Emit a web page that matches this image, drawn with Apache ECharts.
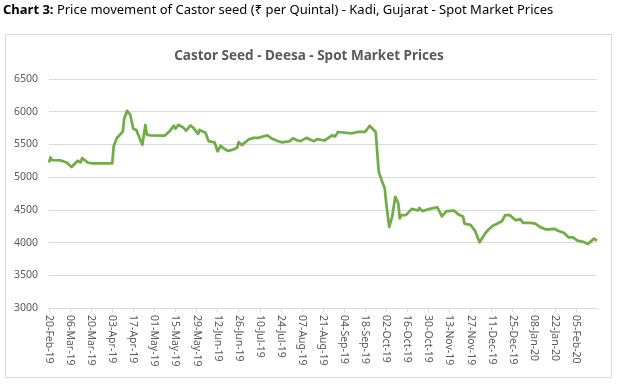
<!DOCTYPE html>
<html>
<head>
<meta charset="utf-8">
<script src="https://cdn.jsdelivr.net/npm/echarts@6/dist/echarts.min.js"></script>
<style>
html,body{margin:0;padding:0;background:#fff;}
#c{width:618px;height:385px;}
</style>
</head>
<body>
<div id="c"></div>
<script>
// ---- Data ----
const headerBold = 'Chart 3:';
const headerText = ' Price movement of Castor seed (₹ per Quintal) - Kadi, Gujarat - Spot Market Prices';
const chartTitle = 'Castor Seed - Deesa - Spot Market Prices';
const axisStart = '2019-02-20';
const axisEnd = '2020-02-19';
const tickDays = 14;
const yTicks = [3000, 3500, 4000, 4500, 5000, 5500, 6000, 6500];
const months = ['Jan','Feb','Mar','Apr','May','Jun','Jul','Aug','Sep','Oct','Nov','Dec'];

const dates = [
 '2019-02-20','2019-02-21','2019-02-22','2019-02-28','2019-03-04','2019-03-07','2019-03-11','2019-03-13','2019-03-14','2019-03-18',
 '2019-03-21','2019-04-03','2019-04-04','2019-04-06','2019-04-10','2019-04-11','2019-04-13','2019-04-15','2019-04-17','2019-04-19',
 '2019-04-23','2019-04-25','2019-04-26','2019-04-28','2019-05-08','2019-05-11','2019-05-14','2019-05-15','2019-05-17','2019-05-20',
 '2019-05-22','2019-05-25','2019-05-27','2019-05-30','2019-05-31','2019-06-04','2019-06-06','2019-06-10','2019-06-12','2019-06-14',
 '2019-06-16','2019-06-19','2019-06-22','2019-06-25','2019-06-26','2019-06-28','2019-07-03','2019-07-06','2019-07-09','2019-07-10',
 '2019-07-15','2019-07-18','2019-07-21','2019-07-25','2019-07-30','2019-08-01','2019-08-04','2019-08-06','2019-08-10','2019-08-15',
 '2019-08-17','2019-08-22','2019-08-27','2019-08-29','2019-08-31','2019-09-09','2019-09-13','2019-09-18','2019-09-21','2019-09-25',
 '2019-09-27','2019-09-29','2019-10-01','2019-10-02','2019-10-04','2019-10-06','2019-10-08','2019-10-10','2019-10-11','2019-10-12',
 '2019-10-15','2019-10-19','2019-10-23','2019-10-24','2019-10-26','2019-10-30','2019-11-05','2019-11-08','2019-11-11','2019-11-16',
 '2019-11-19','2019-11-22','2019-11-23','2019-11-27','2019-11-30','2019-12-03','2019-12-07','2019-12-09','2019-12-12','2019-12-14',
 '2019-12-18','2019-12-20','2019-12-23','2019-12-27','2019-12-30','2020-01-01','2020-01-06','2020-01-09','2020-01-12','2020-01-16',
 '2020-01-18','2020-01-22','2020-01-24','2020-01-28','2020-01-31','2020-02-03','2020-02-06','2020-02-07','2020-02-10','2020-02-13',
 '2020-02-17','2020-02-18','2020-02-19'
];
const prices = [
 5224,5300,5260,5255,5220,5155,5250,5225,5290,5220,
 5210,5210,5476,5594,5695,5900,6015,5950,5740,5720,
 5495,5797,5650,5640,5635,5700,5787,5740,5800,5760,
 5710,5790,5750,5660,5720,5680,5550,5530,5395,5480,
 5440,5400,5420,5450,5535,5490,5580,5600,5600,5630,
 5640,5590,5560,5530,5550,5595,5560,5550,5600,5550,
 5580,5560,5640,5620,5690,5670,5690,5690,5785,5690,
 5085,4950,4830,4600,4240,4400,4700,4600,4370,4420,
 4420,4515,4490,4530,4480,4510,4540,4400,4480,4490,
 4430,4400,4290,4270,4180,4005,4150,4200,4260,4280,
 4330,4420,4420,4340,4360,4300,4300,4290,4240,4200,
 4200,4210,4180,4150,4080,4080,4030,4050,4010,3980,
 4060,4080,4030
];

// ---- Build ----
const DAY = 86400000;
const base = Date.parse(axisStart);
const span = (Date.parse(axisEnd) - base) / DAY;
const seriesData = dates.map((d, i) => [(Date.parse(d) - base) / DAY, prices[i]]);
function fmt(dayIdx) {
  const dt = new Date(base + dayIdx * DAY);
  const dd = String(dt.getUTCDate()).padStart(2, '0');
  const yy = String(dt.getUTCFullYear()).slice(2);
  return dd + '-' + months[dt.getUTCMonth()] + '-' + yy;
}

const chart = echarts.init(document.getElementById('c'), null, {renderer: 'canvas'});
chart.setOption({
  backgroundColor: '#ffffff',
  animation: false,
  graphic: [
    {type: 'rect', shape: {x: 5.5, y: 34.5, width: 606, height: 343},
     style: {fill: 'none', stroke: '#d9d9d9', lineWidth: 1}, z: -1},
    {type: 'text', left: 3, top: 4,
     style: {rich: {b: {fontWeight: 'bold', fontSize: 13, fontFamily: 'Noto Sans', fill: '#000'},
                    n: {fontSize: 13, fontFamily: 'Noto Sans', fill: '#000'}},
             text: '{b|' + headerBold + '}{n|' + headerText + '}'}}
  ],
  title: {
    text: chartTitle, left: 'center', top: 44,
    textStyle: {fontFamily: 'Noto Sans', fontSize: 13.5, fontWeight: 'bold', color: '#595959'}
  },
  grid: {left: 49, right: 21, top: 79, bottom: 77, containLabel: false},
  xAxis: {
    type: 'value', min: 0, max: span, interval: tickDays,
    axisLine: {lineStyle: {color: '#d9d9d9'}},
    axisTick: {show: true, length: 4, lineStyle: {color: '#d9d9d9'}},
    splitLine: {show: false},
    axisLabel: {rotate: -90, margin: 7, showMaxLabel: false, color: '#595959',
                fontFamily: 'Noto Sans', fontSize: 10.5, formatter: v => fmt(v)}
  },
  yAxis: {
    type: 'value', min: yTicks[0], max: yTicks[yTicks.length - 1], interval: yTicks[1] - yTicks[0],
    axisLine: {show: false}, axisTick: {show: false},
    splitLine: {lineStyle: {color: '#d9d9d9', width: 1}},
    axisLabel: {margin: 11, color: '#595959', fontFamily: 'Noto Sans', fontSize: 10.5,
                formatter: v => String(v)}
  },
  series: [{
    type: 'line', data: seriesData, showSymbol: false, symbol: 'none',
    lineStyle: {color: '#70ad47', width: 2.75, join: 'round'}
  }]
});
</script>
</body>
</html>
